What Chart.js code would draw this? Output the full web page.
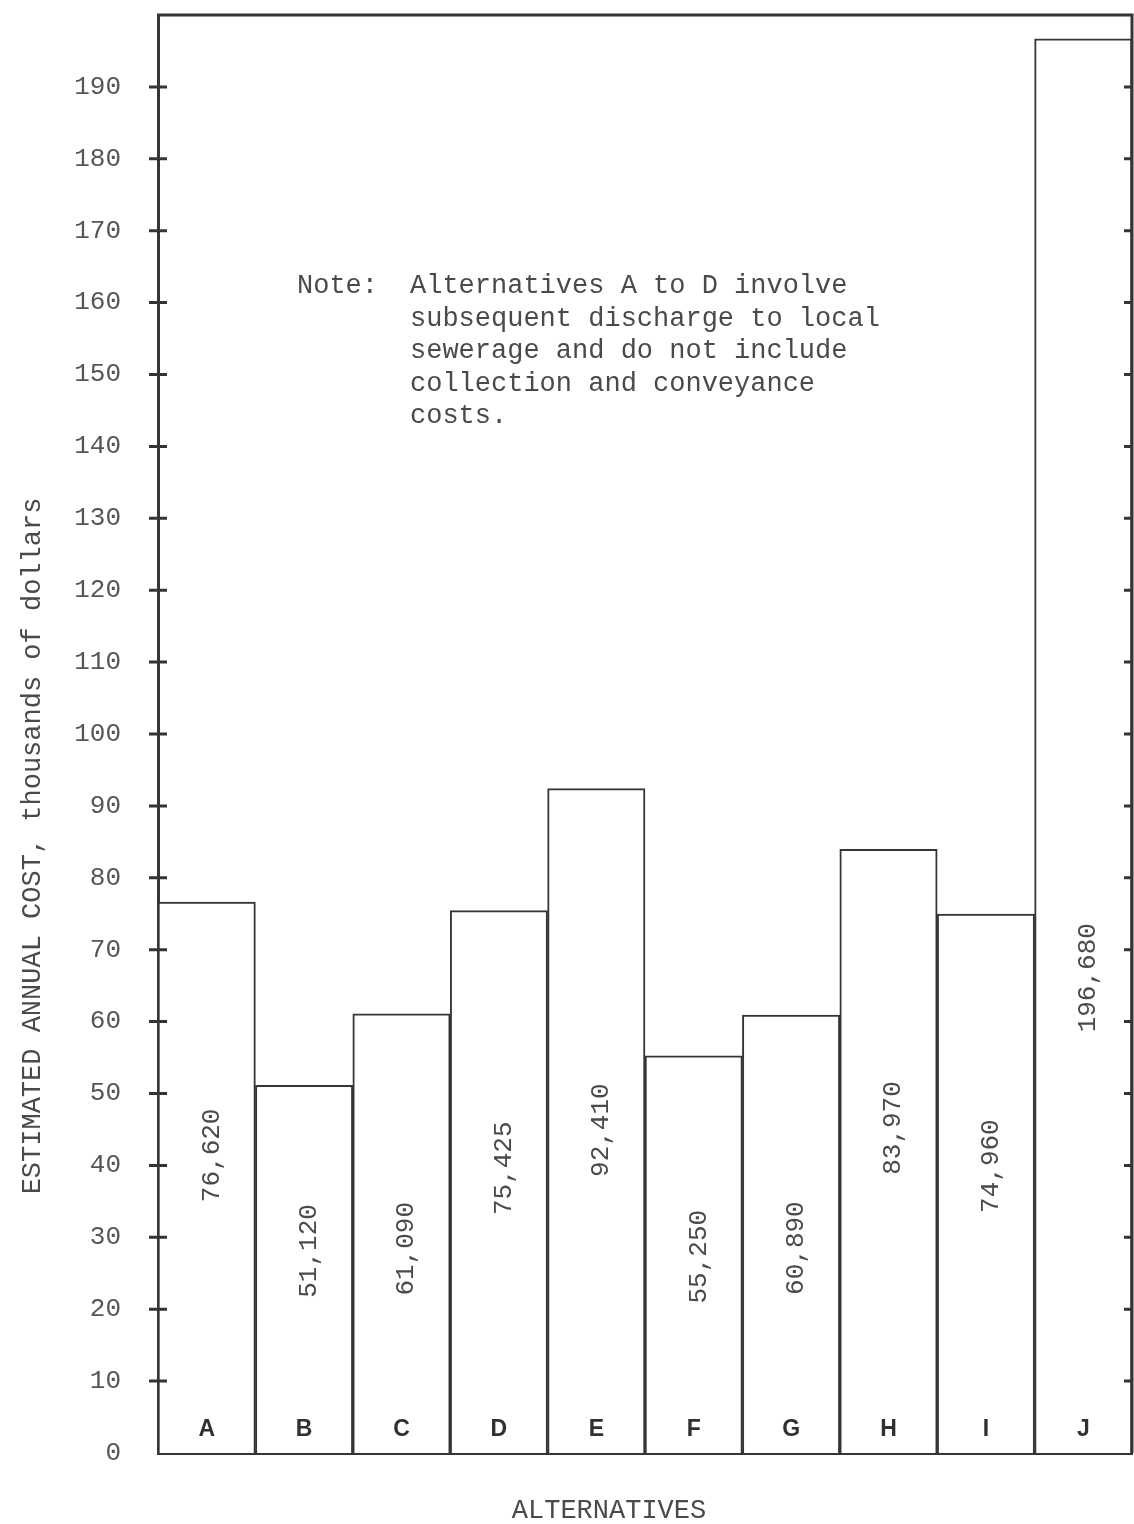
<!DOCTYPE html>
<html>
<head>
<meta charset="utf-8">
<script src="https://cdn.jsdelivr.net/npm/chart.js@4/dist/chart.umd.min.js"></script>
<style>
  html, body { margin: 0; padding: 0; background: #ffffff; }
  #wrap { width: 1134px; height: 1524px; position: relative; }
</style>
</head>
<body>
<div id="wrap"><canvas id="c" width="1134" height="1524"></canvas></div>
<script>
// Alternatives and their estimated annual cost (thousands of dollars)
const alternatives = ['A', 'B', 'C', 'D', 'E', 'F', 'G', 'H', 'I', 'J'];
const annualCost = [76.620, 51.120, 61.090, 75.425, 92.410, 55.250, 60.890, 83.970, 74.960, 196.680];
const costLabels = ['76,620', '51,120', '61,090', '75,425', '92,410', '55,250', '60,890', '83,970', '74,960', '196,680'];
const yTicks = [0, 10, 20, 30, 40, 50, 60, 70, 80, 90, 100, 110, 120, 130, 140, 150, 160, 170, 180, 190];

const noteLines = [
  ['Note:', 'Alternatives A to D involve'],
  ['', 'subsequent discharge to local'],
  ['', 'sewerage and do not include'],
  ['', 'collection and conveyance'],
  ['', 'costs.']
];
const yTitle = 'ESTIMATED ANNUAL COST, thousands of dollars';
const xTitle = 'ALTERNATIVES';

// where each rotated value label sits along its bar (axis units)
const valueLabelAt = [41.4, 28.1, 28.4, 39.6, 44.9, 27.3, 28.5, 45.2, 39.9, 66.1];

const INK = '#353535';
const TEXT = '#4a4a4a';
const MONO = "'Courier New', 'Liberation Mono', monospace";

const decor = {
  id: 'decor',
  afterDatasetsDraw(chart) {
    const ctx = chart.ctx;
    const y = chart.scales.y, x = chart.scales.x;
    const area = chart.chartArea;
    ctx.save();

    // frame: top and right edges
    ctx.strokeStyle = INK;
    ctx.lineWidth = 3;
    ctx.beginPath();
    ctx.moveTo(area.left - 1, area.top);
    ctx.lineTo(area.right, area.top);
    ctx.lineTo(area.right, area.bottom);
    ctx.stroke();

    // tick marks: crossing the left axis, inward on the right edge
    ctx.lineWidth = 3;
    yTicks.forEach(v => {
      if (v === 0) return;
      const py = y.getPixelForValue(v);
      ctx.beginPath();
      ctx.moveTo(area.left - 9, py);
      ctx.lineTo(area.left + 9, py);
      ctx.moveTo(area.right - 8, py);
      ctx.lineTo(area.right, py);
      ctx.stroke();
    });

    // value labels, rotated, inside each bar
    ctx.fillStyle = TEXT;
    ctx.font = '26px ' + MONO;
    ctx.textAlign = 'center';
    ctx.textBaseline = 'middle';
    costLabels.forEach((t, i) => {
      const px = x.getPixelForValue(i) + 5;
      const py = y.getPixelForValue(valueLabelAt[i]);
      ctx.save();
      ctx.translate(px, py);
      ctx.rotate(-Math.PI / 2);
      ctx.fillText(t, 0, 0);
      ctx.restore();
    });

    // bar letters along the base
    ctx.fillStyle = '#303030';
    ctx.font = "bold 23px 'Liberation Sans', Arial, sans-serif";
    alternatives.forEach((t, i) => {
      ctx.fillText(t, x.getPixelForValue(i), area.bottom - 23);
    });

    // note
    ctx.fillStyle = TEXT;
    ctx.font = '27px ' + MONO;
    ctx.textAlign = 'left';
    noteLines.forEach((ln, i) => {
      const py = 286 + i * 32.5;
      if (ln[0]) ctx.fillText(ln[0], 297, py);
      ctx.fillText(ln[1], 410, py);
    });

    // axis titles
    ctx.textAlign = 'center';
    ctx.fillText(xTitle, 609, 1511);
    ctx.save();
    ctx.translate(33, 846);
    ctx.rotate(-Math.PI / 2);
    ctx.fillText(yTitle, 0, 0);
    ctx.restore();

    ctx.restore();
  }
};

new Chart(document.getElementById('c'), {
  type: 'bar',
  data: {
    labels: alternatives,
    datasets: [{
      data: annualCost,
      backgroundColor: '#ffffff',
      borderColor: INK,
      borderWidth: 2,
      borderSkipped: 'bottom',
      barPercentage: 1,
      categoryPercentage: 1
    }]
  },
  options: {
    responsive: false,
    animation: false,
    devicePixelRatio: 1,
    layout: { padding: { top: 15, right: 2, left: 0, bottom: 0 } },
    plugins: { legend: { display: false }, tooltip: { enabled: false } },
    scales: {
      x: {
        grid: { display: false, drawTicks: false },
        border: { display: true, color: INK, width: 3 },
        ticks: { display: false },
        afterFit(s) { s.height = 71; s.paddingLeft = 0; s.paddingRight = 0; }
      },
      y: {
        min: 0,
        max: 200,
        grid: { display: false, drawTicks: false },
        border: { display: true, color: INK, width: 3 },
        afterBuildTicks(s) { s.ticks = yTicks.map(v => ({ value: v })); },
        ticks: {
          padding: 37,
          color: '#555555',
          font: { family: MONO, size: 26 },
          callback: v => String(v)
        },
        afterFit(s) { s.width = 158; s.paddingTop = 0; s.paddingBottom = 0; }
      }
    }
  },
  plugins: [decor]
});
</script>
</body>
</html>
